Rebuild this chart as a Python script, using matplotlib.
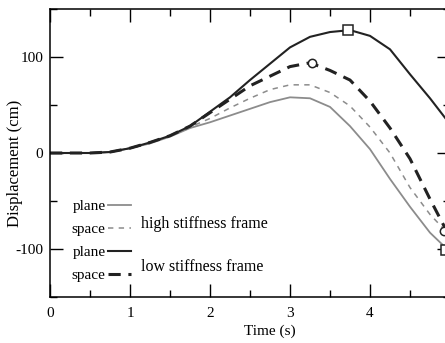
import matplotlib.pyplot as plt
from matplotlib.ticker import MultipleLocator

# values
time = [0, 0.25, 0.5, 0.75, 1.0, 1.25, 1.5, 1.75, 2.0, 2.25, 2.5,
        2.75, 3.0, 3.25, 3.5, 3.75, 4.0, 4.25, 4.5, 4.75, 5.0]
high_plane = [0, 0, 0, 1, 5, 10, 17, 26, 32, 39, 46,
              53, 58, 57, 48, 28, 4, -27, -56, -83, -103]
high_space = [0, 0, 0, 1, 5, 10, 18, 27, 36, 47, 57,
              66, 71, 71, 63, 49, 27, 0, -36, -64, -86]
low_plane = [0, 0, 0, 1, 5, 11, 18, 28, 43, 58, 76,
             93, 110, 121, 126, 128, 122, 108, 82, 57, 30]
low_space = [0, 0, 0, 1, 5, 11, 18, 28, 42, 56, 70,
             80, 90, 94, 86, 76, 54, 26, -6, -48, -88]

# peak / end markers
square_t = [3.72, 4.95]
square_v = [128, -101]
circle_t = [3.27, 4.93]
circle_v = [94, -81]

plt.rcParams['font.family'] = 'Liberation Serif'
plt.rcParams['axes.unicode_minus'] = False
fs = 11

fig = plt.figure(figsize=(4.45, 3.43), dpi=100)
ax = fig.add_axes([50 / 445, 46 / 343, 400 / 445, 288 / 343])

ax.plot(time, high_plane, color='#8c8c8c', lw=1.3, label='plane')
ax.plot(time, high_space, color='#8c8c8c', lw=1.1, dashes=(3.5, 3.5), label='space')
ax.plot(time, low_plane, color='#222222', lw=1.5, label='plane')
ax.plot(time, low_space, color='#222222', lw=2.2, dashes=(4, 2.5), label='space')

ax.plot(square_t, square_v, ls='none', marker='s', ms=6.5, mfc='white',
        mec='#222222', mew=1.1)
ax.plot(circle_t, circle_v, ls='none', marker='o', ms=6, mfc='white',
        mec='#222222', mew=1.1)

ax.set_xlim(0, 5)
ax.set_ylim(-150, 150)
ax.xaxis.set_major_locator(MultipleLocator(1))
ax.xaxis.set_minor_locator(MultipleLocator(0.5))
ax.yaxis.set_major_locator(MultipleLocator(100))
ax.yaxis.set_minor_locator(MultipleLocator(50))
ax.tick_params(which='both', direction='in', top=True, right=True,
               width=1, labelsize=fs)
ax.tick_params(which='major', length=9.5)
ax.tick_params(axis='x', pad=7)
ax.tick_params(axis='y', pad=5)
ax.tick_params(which='minor', length=5)
for s in ax.spines.values():
    s.set_linewidth(1.1)

ax.set_xlabel('Time (s)', fontsize=fs)
ax.set_ylabel('Displacement (cm)', fontsize=12)
ax.xaxis.set_label_coords(0.55, -0.097)
ax.yaxis.set_label_coords(-0.068, 0.465)

leg = ax.legend(loc='lower left', bbox_to_anchor=(0.035, 0.026), frameon=False,
                markerfirst=False, fontsize=fs, handlelength=1.5,
                handletextpad=0.15, labelspacing=0.6, borderpad=0)
ax.text(0.228, 0.255, 'high stiffness frame', transform=ax.transAxes,
        fontsize=11.5, va='center')
ax.text(0.228, 0.104, 'low stiffness frame', transform=ax.transAxes,
        fontsize=11.5, va='center')

fig.savefig('out.png', dpi=100)
